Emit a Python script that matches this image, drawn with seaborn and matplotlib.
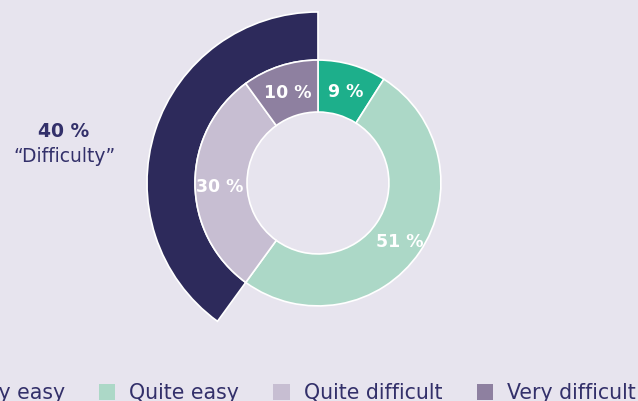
import matplotlib.pyplot as plt
import matplotlib.patches as mpatches
import seaborn as sns

# data
categories = ['Very easy', 'Quite easy', 'Quite difficult', 'Very difficult']
shares = [9, 51, 30, 10]
difficulty_total = 40
difficulty_label = '“Difficulty”'

colors = ['#1DAF8B', '#ACD8C7', '#C7BED2', '#8E80A0']
navy = '#2D2A5B'
bg = '#E7E4EE'
text_col = '#33306A'

sns.set_theme(style='white')
plt.rcParams['font.family'] = ['DejaVu Sans']

fig = plt.figure(figsize=(6.38, 4.01), dpi=100)
fig.patch.set_facecolor(bg)

# square axes centred on the donut, outer arc radius = 1
ax = fig.add_axes([0.2304, 0.1172, 0.536, 0.853])
ax.set_facecolor(bg)
ax.axis('off')

# outer arc showing the "difficulty" total
outer, _ = ax.pie([difficulty_total, 100 - difficulty_total], radius=1.0,
                  startangle=90, counterclock=True, colors=[navy, bg],
                  wedgeprops=dict(width=0.281, edgecolor='white', linewidth=1.2))
outer[1].set_visible(False)

# inner ring
inner, _, autotexts = ax.pie(shares, radius=0.719, startangle=90, counterclock=False,
                             colors=colors, autopct='%.0f %%', pctdistance=0.8,
                             wedgeprops=dict(width=0.304, edgecolor='white', linewidth=1.2))
for t in autotexts:
    t.set_color('white')
    t.set_fontweight('bold')
    t.set_fontsize(12.5)
    x, y = t.get_position()
    t.set_position((x, y - 0.022))

ax.set_xlim(-1, 1)
ax.set_ylim(-1, 1)
ax.set_aspect('equal')

fig.text(0.1003, 0.658, f'{difficulty_total} %', ha='center', va='baseline',
         fontsize=13.5, fontweight='bold', color=text_col)
fig.text(0.1003, 0.596, difficulty_label, ha='center', va='baseline',
         fontsize=13.5, color=text_col)

handles = [mpatches.Patch(facecolor=c, edgecolor='none') for c in colors]
fig.legend(handles, categories, loc='center right', bbox_to_anchor=(0.997, 0.02),
           ncol=4, frameon=False, fontsize=14.8, labelcolor=text_col,
           handlelength=0.8, handleheight=0.8, handletextpad=0.7,
           columnspacing=1.65, borderpad=0, borderaxespad=0)

fig.savefig('out.png', dpi=100, facecolor=bg)
